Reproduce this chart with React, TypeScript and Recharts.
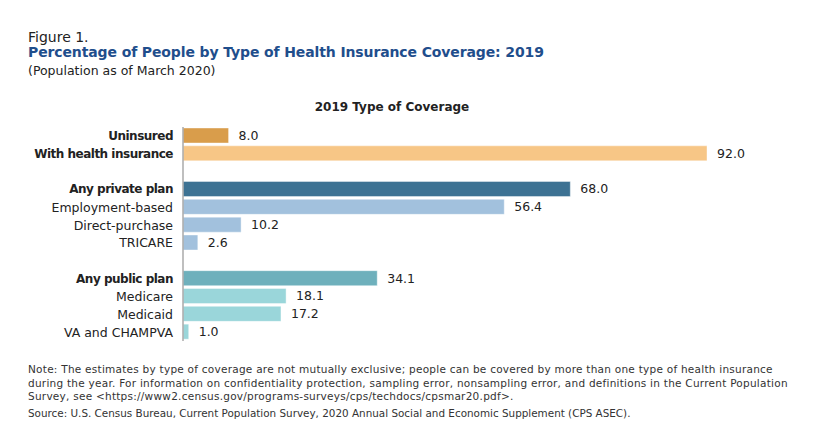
import { Bar, BarChart, Cell, LabelList, XAxis, YAxis } from "recharts";

const categories = [
  "Uninsured",
  "With health insurance",
  " ",
  "Any private plan",
  "Employment-based",
  "Direct-purchase",
  "TRICARE",
  "  ",
  "Any public plan",
  "Medicare",
  "Medicaid",
  "VA and CHAMPVA",
];
const values = [8.0, 92.0, null, 68.0, 56.4, 10.2, 2.6, null, 34.1, 18.1, 17.2, 1.0];
const colors = [
  "#D99D4B", "#F7C686", "#ffffff",
  "#3D7293", "#A2C1DD", "#A2C1DD", "#A2C1DD", "#ffffff",
  "#6EB0BC", "#9AD6DA", "#9AD6DA", "#9AD6DA",
];
const boldRows = ["Uninsured", "With health insurance", "Any private plan", "Any public plan"];

const data = categories.map((name, i) => ({ name, value: values[i] }));

const font = "'DejaVu Sans', sans-serif";

function CategoryTick(props: any) {
  const { x, y, payload } = props;
  const bold = boldRows.includes(payload.value);
  return (
    <text
      x={x}
      y={y}
      textAnchor="end"
      dominantBaseline="central"
      fontSize={bold ? 12 : 12.5}
      letterSpacing={bold ? -0.5 : 0}
      fontFamily={font}
      fontWeight={bold ? 700 : 400}
      fill="#222"
    >
      {payload.value}
    </text>
  );
}

export default function App() {
  return (
    <div
      style={{
        position: "absolute",
        left: 0,
        top: 0,
        width: 826,
        height: 440,
        background: "#fff",
        fontFamily: font,
        color: "#222",
      }}
    >
      <div style={{ position: "absolute", left: 28, top: 29, fontSize: 14, lineHeight: "16px" }}>Figure 1.</div>
      <div
        style={{
          position: "absolute",
          left: 28,
          top: 44,
          fontSize: 14,
          lineHeight: "16px",
          fontWeight: 700,
          letterSpacing: -0.12,
          color: "#1F4E8C",
        }}
      >
        Percentage of People by Type of Health Insurance Coverage: 2019
      </div>
      <div style={{ position: "absolute", left: 28, top: 63, fontSize: 12.5, lineHeight: "16px" }}>
        (Population as of March 2020)
      </div>
      <div
        style={{
          position: "absolute",
          left: 292,
          width: 200,
          top: 100,
          textAlign: "center",
          fontSize: 12,
          fontWeight: 700,
        }}
      >
        2019 Type of Coverage
      </div>
      <div style={{ position: "absolute", left: 0, top: 0 }}>
        <BarChart
          width={826}
          height={440}
          data={data}
          layout="vertical"
          margin={{ top: 127, right: 119, bottom: 99, left: 0 }}
          barSize={15}
        >
          <XAxis type="number" domain={[0, 92]} hide />
          <YAxis
            type="category"
            dataKey="name"
            width={183}
            axisLine={{ stroke: "#aaa", strokeWidth: 1.5 }}
            tickLine={false}
            tickSize={0}
            tickMargin={10}
            tick={<CategoryTick />}
            interval={0}
          />
          <Bar dataKey="value" isAnimationActive={false} stroke="#ffffff" strokeOpacity={0.4}>
            {data.map((d, i) => (
              <Cell key={d.name} fill={colors[i]} />
            ))}
            <LabelList
              dataKey="value"
              position="right"
              offset={10}
              fontSize={12.5}
              fontFamily={font}
              fill="#222"
              formatter={(v: any) => (v == null ? "" : Number(v).toFixed(1))}
            />
          </Bar>
        </BarChart>
      </div>
      <div
        style={{
          position: "absolute",
          left: 28,
          top: 363,
          width: 790,
          fontSize: 10.5,
          letterSpacing: 0.25,
          lineHeight: "13.5px",
          color: "#333",
          whiteSpace: "nowrap",
        }}
      >
        Note: The estimates by type of coverage are not mutually exclusive; people can be covered by more than one type of health insurance
        <br />
        during the year. For information on confidentiality protection, sampling error, nonsampling error, and definitions in the Current Population
        <br />
        Survey, see &lt;https://www2.census.gov/programs-surveys/cps/techdocs/cpsmar20.pdf&gt;.
      </div>
      <div style={{ position: "absolute", left: 28, top: 407, fontSize: 10.4, color: "#333", whiteSpace: "nowrap" }}>
        Source: U.S. Census Bureau, Current Population Survey, 2020 Annual Social and Economic Supplement (CPS ASEC).
      </div>
    </div>
  );
}
